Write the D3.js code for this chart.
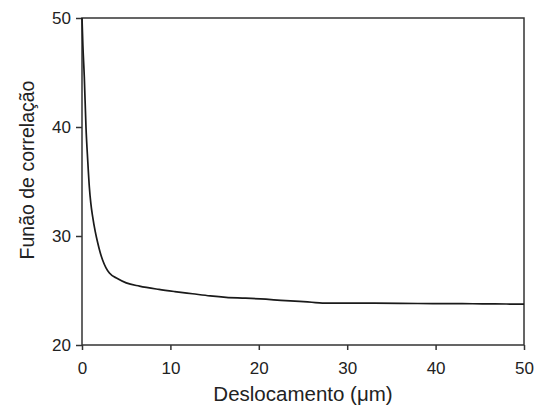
<!DOCTYPE html>
<html>
<head>
<meta charset="utf-8">
<script src="https://cdn.jsdelivr.net/npm/d3@7"></script>
<style>
  body { margin: 0; background: #fff; }
  text { font-family: "Liberation Sans", Arial, sans-serif; fill: #222; }
</style>
</head>
<body>
<svg id="chart" width="545" height="409"></svg>
<script>
var xValues = [0, 0.1, 0.26, 0.45, 0.65, 0.83, 1.0, 1.2, 1.5, 1.77, 2.05, 2.33, 2.7, 3.1, 4.0, 5.0, 6.5, 8.7, 10.5, 12.5, 14.5, 16.3, 18.5, 20.8, 22.5, 24.6, 26, 27.2, 30, 32, 36, 39.7, 43, 45.3, 48, 50]
var yValues = [50, 47.5, 44.6, 40.0, 36.9, 34.5, 33.0, 31.8, 30.4, 29.4, 28.5, 27.8, 27.1, 26.6, 26.1, 25.7, 25.4, 25.1, 24.9, 24.7, 24.5, 24.37, 24.3, 24.2, 24.1, 24.0, 23.92, 23.85, 23.84, 23.84, 23.82, 23.8, 23.79, 23.78, 23.76, 23.75]
var xTicks = [0, 10, 20, 30, 40, 50]
var yTicks = [20, 30, 40, 50]

var margin = {left: 82, top: 18, right: 21, bottom: 64}
var svg = d3.select('#chart')
var width = 545 - margin.left - margin.right,
    height = 409 - margin.top - margin.bottom

var x = d3.scaleLinear().domain([0, 50]).range([0, width])
var y = d3.scaleLinear().domain([20, 50]).range([height, 0])

var g = svg.append('g')
    .attr('transform', `translate(${margin.left}, ${margin.top})`)

// frame
g.append('rect')
    .attr('width', width)
    .attr('height', height)
    .attr('fill', 'none')
    .attr('stroke', '#333')
    .attr('stroke-width', 1.5)

var xAxis = g.append('g')
    .attr('transform', `translate(0, ${height})`)
    .call(d3.axisBottom(x).tickValues(xTicks).tickSize(5).tickPadding(12).tickFormat(d3.format('d')))
var yAxis = g.append('g')
    .call(d3.axisLeft(y).tickValues(yTicks).tickSize(6).tickPadding(5).tickFormat(d3.format('d')))

;[xAxis, yAxis].forEach(function (ax) {
  ax.select('.domain').remove()
  ax.selectAll('line').attr('stroke', '#333').attr('stroke-width', 1.5)
  ax.selectAll('text').attr('font-size', 17).attr('fill', '#222')
      .style('font-family', '"Liberation Sans", Arial, sans-serif')
})

var line = d3.line()
    .x(function (d, i) { return x(xValues[i]) })
    .y(function (d) { return y(d) })
    .curve(d3.curveMonotoneX)

g.append('path')
    .datum(yValues)
    .attr('d', line)
    .attr('fill', 'none')
    .attr('stroke', '#1a1a1a')
    .attr('stroke-width', 1.7)

svg.append('text')
    .attr('x', margin.left + width / 2)
    .attr('y', 401)
    .attr('text-anchor', 'middle')
    .attr('font-size', 20.5)
    .text('Deslocamento (μm)')

svg.append('text')
    .attr('transform', 'translate(33.5, 170) rotate(-90)')
    .attr('text-anchor', 'middle')
    .attr('font-size', 19.5)
    .text('Funão de correlação')
</script>
</body>
</html>
